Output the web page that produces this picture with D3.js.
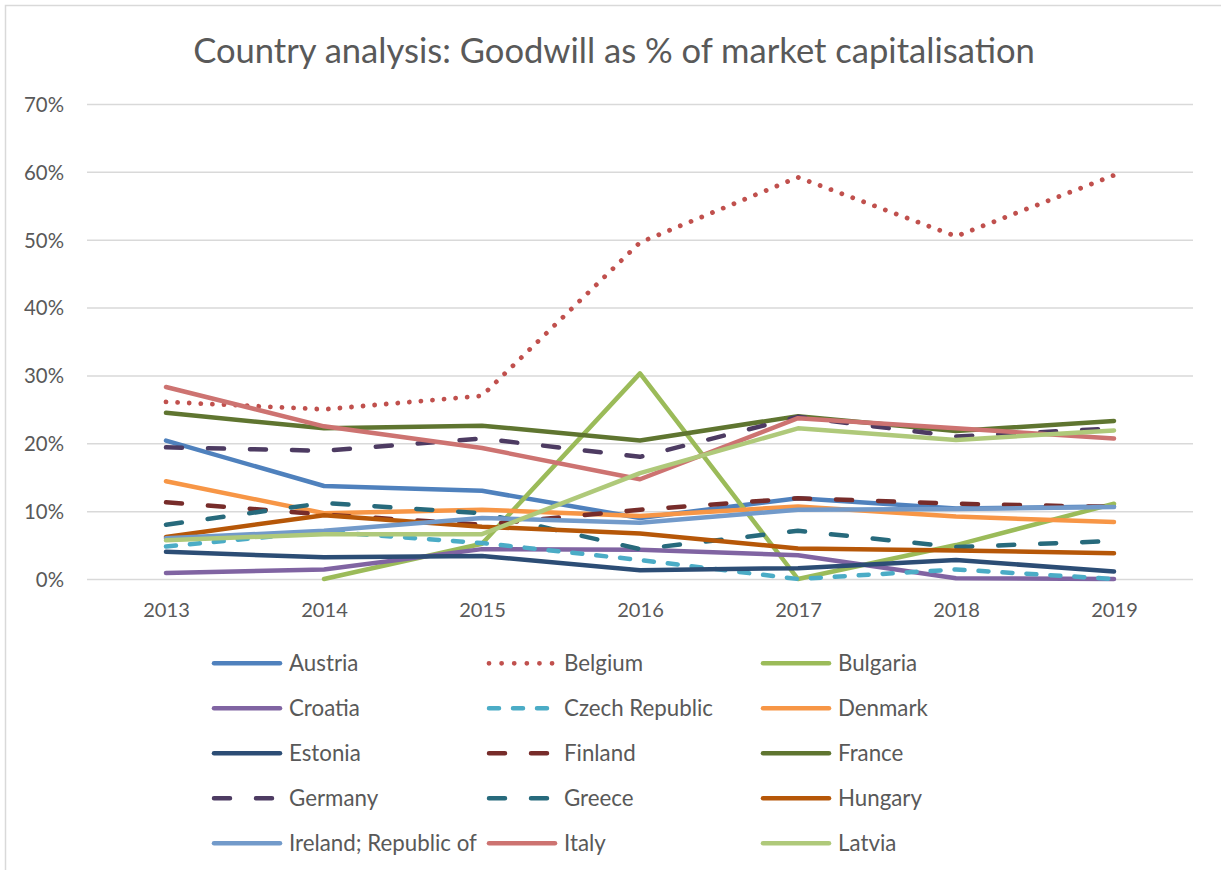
<!DOCTYPE html>
<html>
<head>
<meta charset="utf-8">
<script src="https://cdn.jsdelivr.net/npm/d3@7"></script>
<style>
  html, body { margin: 0; padding: 0; background: #fff; }
  svg { display: block; }
  text { font-family: Lato, "Open Sans", sans-serif; fill: #595959; }
</style>
</head>
<body>
<svg id="chart" width="1221" height="870"></svg>
<script>
// ---------- data (values in %) ----------
const years = ["2013", "2014", "2015", "2016", "2017", "2018", "2019"];
const yTicks = [0, 10, 20, 30, 40, 50, 60, 70];
const countries = ["Austria", "Belgium", "Bulgaria", "Croatia", "Czech Republic",
  "Denmark", "Estonia", "Finland", "France", "Germany", "Greece", "Hungary",
  "Ireland; Republic of", "Italy", "Latvia"];

const austria  = [20.4, 13.7, 13.0,  9.0, 11.9, 10.4, 10.7];
const belgium  = [26.1, 25.0, 27.0, 49.6, 59.2, 50.5, 59.5];
const bulgaria = [null,  0.0,  5.2, 30.3,  0.0,  5.0, 11.1];
const croatia  = [ 0.9,  1.4,  4.4,  4.3,  3.5,  0.1,  0.0];
const czech    = [ 4.8,  7.0,  5.3,  2.8,  0.0,  1.4,  0.0];
const denmark  = [14.4,  9.7, 10.2,  9.3, 10.7,  9.2,  8.4];
const estonia  = [ 4.0,  3.2,  3.4,  1.3,  1.6,  2.8,  1.1];
const finland  = [11.3,  9.5,  8.0, 10.2, 11.9, 11.1, 10.6];
const france   = [24.5, 22.2, 22.6, 20.4, 24.0, 21.8, 23.3];
const germany  = [19.4, 18.9, 20.7, 18.0, 23.9, 21.0, 22.2];
const greece   = [ 8.0, 11.2,  9.7,  4.4,  7.1,  4.7,  5.6];
const hungary  = [ 6.2,  9.4,  7.7,  6.7,  4.5,  4.2,  3.8];
const ireland  = [ 6.0,  7.1,  9.0,  8.3, 10.2, 10.3, 10.6];
const italy    = [28.3, 22.5, 19.3, 14.7, 23.7, 22.2, 20.7];
const latvia   = [ 5.7,  6.6,  6.6, 15.6, 22.2, 20.5, 21.9];

const seriesValues = [austria, belgium, bulgaria, croatia, czech, denmark, estonia,
  finland, france, germany, greece, hungary, ireland, italy, latvia];

// ---------- styles ----------
const colors = ["#4F81BD", "#C0504D", "#9BBB59", "#8064A2", "#4BACC6", "#F79646",
  "#2C4D75", "#772C2A", "#5F7530", "#4D3B62", "#276A7C", "#B65708",
  "#729ACA", "#CD7371", "#AFC97A"];
const DOT = "0.01,11.6", DASH = "10,14", LONG = "16,26";
const dashes = [null, DOT, null, null, DASH, null, null, LONG, null, LONG, LONG,
  null, null, null, null];

const svg = d3.select("#chart");
const W = 1221, H = 870;

// chart border (only top/left visible in frame)
svg.append("rect").attr("x", 5.5).attr("y", 5.5).attr("width", W + 20).attr("height", H + 20)
  .attr("fill", "none").attr("stroke", "#d9d9d9").attr("stroke-width", 1.5);

const plot = { left: 87, right: 1193, top: 104, bottom: 579 };
const x = d3.scalePoint().domain(years).range([plot.left, plot.right]).padding(0.5);
const y = d3.scaleLinear().domain([0, 70]).range([plot.bottom, plot.top]);

function fit(sel, target) {
  const base = 40;
  sel.style("font-size", base + "px");
  const w = sel.node().getComputedTextLength();
  return base * target / w;
}

// title
const title = svg.append("text").attr("x", 614).attr("y", 62.5).attr("text-anchor", "middle")
  .text("Country analysis: Goodwill as % of market capitalisation");
title.style("font-size", fit(title, 842) + "px");

// gridlines + y labels
const yAxis = d3.axisLeft(y).tickValues(yTicks).tickSize(-(plot.right - plot.left))
  .tickFormat(d => d + "%").tickPadding(23);
const gy = svg.append("g").attr("transform", `translate(${plot.left},0)`).call(yAxis);
gy.select(".domain").remove();
gy.selectAll(".tick line").attr("stroke", "#d9d9d9").attr("stroke-width", 1.5);
const yl = gy.selectAll(".tick text");
const ySize = fit(d3.select(yl.nodes()[7]), 40);
yl.style("font-size", ySize + "px").attr("fill", "#595959").attr("dy", "0.36em")
  .style("font-family", "Lato, sans-serif");

// x axis labels
const xAxis = d3.axisBottom(x).tickSize(0).tickPadding(0);
const gx = svg.append("g").attr("transform", `translate(0,${plot.bottom})`).call(xAxis);
gx.select(".domain").remove();
const xl = gx.selectAll(".tick text");
const xSize = fit(d3.select(xl.nodes()[0]), 46.6);
xl.style("font-size", xSize + "px").attr("fill", "#595959").attr("dy", null)
  .attr("y", 38).style("font-family", "Lato, sans-serif");

// lines
const line = d3.line()
  .defined(d => d != null)
  .x((d, i) => x(years[i]))
  .y(d => y(d));

const gl = svg.append("g");
seriesValues.forEach((vals, k) => {
  gl.append("path")
    .datum(vals)
    .attr("d", line)
    .attr("fill", "none")
    .attr("stroke", colors[k])
    .attr("stroke-width", dashes[k] === DOT ? 4.8 : 4.5)
    .attr("stroke-linecap", "round")
    .attr("stroke-linejoin", "round")
    .attr("stroke-dasharray", dashes[k]);
});

// legend
const colX = [212, 487, 761];
const rowY = [663.3, 708.3, 753.3, 798.3, 843.3];
const lg = svg.append("g");
let legSize = null;
countries.forEach((name, k) => {
  const cx = colX[k % 3], cy = rowY[Math.floor(k / 3)];
  const isDot = dashes[k] === DOT;
  lg.append("line").attr("x1", cx + 2).attr("x2", isDot ? cx + 66 : cx + 68).attr("y1", cy).attr("y2", cy)
    .attr("stroke", colors[k]).attr("stroke-width", isDot ? 4.8 : 4.5)
    .attr("stroke-linecap", "round").attr("stroke-dasharray", isDot ? "0.01,12.6" : dashes[k]);
  const t = lg.append("text").attr("x", cx + 77).attr("y", cy + 7.6).text(name);
  if (name === "Ireland; Republic of") legSize = fit(t, 188);
});
lg.selectAll("text").style("font-size", legSize + "px");
</script>
</body>
</html>
